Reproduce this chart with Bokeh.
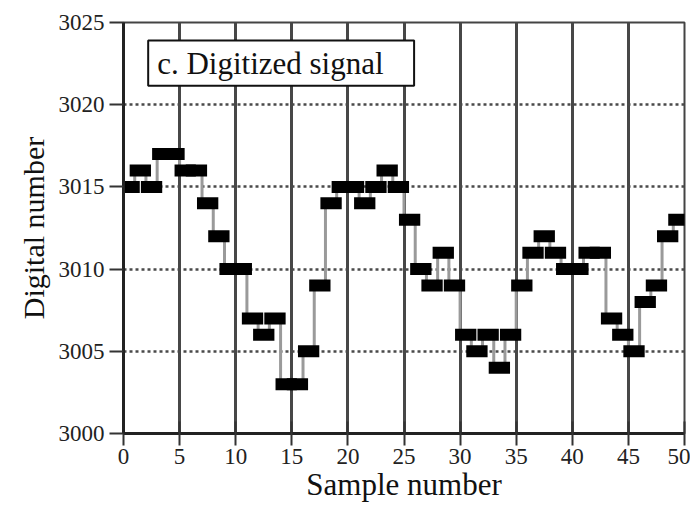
import numpy as np
from bokeh.plotting import figure
from bokeh.models import Range1d, FixedTicker, Label
from bokeh.embed import file_html
from bokeh.resources import INLINE

# ---- data ----
samples = list(range(50))
digital = [3015, 3016, 3015, 3017, 3017, 3016, 3016, 3014, 3012, 3010,
           3010, 3007, 3006, 3007, 3003, 3003, 3005, 3009, 3014, 3015,
           3015, 3014, 3015, 3016, 3015, 3013, 3010, 3009, 3011, 3009,
           3006, 3005, 3006, 3004, 3006, 3009, 3011, 3012, 3011, 3010,
           3010, 3011, 3011, 3007, 3006, 3005, 3008, 3009, 3012, 3013]
x_ticks = list(range(0, 51, 5))
y_ticks = list(range(3000, 3026, 5))
title_text = "c. Digitized signal"
x_label = "Sample number"
y_label = "Digital number"

FONT = "Liberation Serif"

p = figure(width=690, height=510, output_backend="svg", toolbar_location=None,
           x_range=Range1d(0, 50), y_range=Range1d(3000, 3025),
           min_border_left=123, min_border_right=6, min_border_top=22,
           min_border_bottom=77)
p.background_fill_color = "white"
p.border_fill_color = "white"
p.outline_line_color = "#444444"
p.outline_line_width = 2

# grids
p.xgrid.ticker = FixedTicker(ticks=x_ticks[1:])
p.xgrid.grid_line_color = "#474747"
p.xgrid.grid_line_width = 3
p.ygrid.ticker = FixedTicker(ticks=y_ticks[1:-1])
p.ygrid.grid_line_color = "#4a4a4a"
p.ygrid.grid_line_width = 2.5
p.ygrid.grid_line_dash = "3 3"

# axes
for ax in (p.xaxis[0], p.yaxis[0]):
    ax.axis_line_color = "#222222"
    ax.axis_line_width = 3
    ax.major_tick_line_color = "#333333"
    ax.major_tick_line_width = 2
    ax.minor_tick_line_color = None
    ax.major_label_text_font = FONT
    ax.major_label_text_font_size = "23px"
    ax.major_label_text_color = "#222222"
    ax.axis_label_text_font = FONT
    ax.axis_label_text_font_style = "normal"
    ax.axis_label_text_color = "#111111"

p.xaxis.axis_label_text_font_size = "31px"
p.yaxis.axis_label_text_font_size = "30px"
p.xaxis.ticker = FixedTicker(ticks=x_ticks)
p.yaxis.ticker = FixedTicker(ticks=y_ticks)
p.xaxis.axis_label = x_label
p.yaxis.axis_label = y_label
p.xaxis.major_tick_out = 12
p.xaxis.major_tick_in = 12
p.xaxis.major_label_standoff = 3
p.xaxis.axis_label_standoff = 0
p.yaxis.major_tick_out = 14
p.yaxis.major_tick_in = 0
p.yaxis.major_label_standoff = 5
p.yaxis.axis_label_standoff = 6

# gray step connectors
p.step(x=samples, y=digital, mode="after", line_color="#9a9a9a", line_width=3)

# black sample bars
xc = np.array(samples) + 0.5
p.rect(x=xc, y=digital, width=1.9, height=12, height_units="screen",
       fill_color="black", line_color=None)

# title box
p.quad(left=2.2, right=25.9, bottom=3021.15, top=3023.9,
       fill_color="white", line_color="#111111", line_width=2)
p.add_layout(Label(x=3.0, y=3022.5, text=title_text, text_font=FONT,
                   text_font_size="31px", text_color="#111111",
                   text_baseline="middle", text_align="left"))

open("out.html", "w").write(file_html(p, INLINE))
